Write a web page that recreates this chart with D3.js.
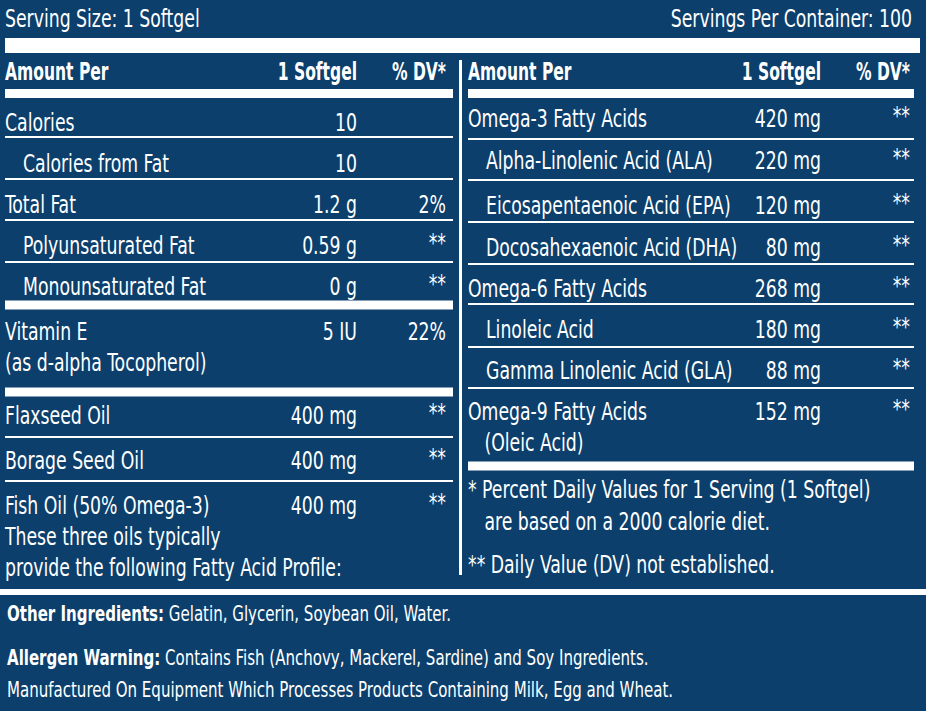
<!DOCTYPE html>
<html><head><meta charset="utf-8">
<script src="https://cdn.jsdelivr.net/npm/d3@7"></script>
<style>
html,body{margin:0;padding:0;background:#0c3f6c;}
text{font-family:"DejaVu Sans Condensed","DejaVu Sans",sans-serif;fill:#fff;}
</style></head><body>
<svg id="c" width="926" height="711"></svg>
<script>
// ---- data ----
const servingSize = "Serving Size: 1 Softgel";
const servingsPer = "Servings Per Container: 100";
const headers = ["Amount Per", "1 Softgel", "% DV*"];
const leftLabels = ["Calories", "Calories from Fat", "Total Fat", "Polyunsaturated Fat", "Monounsaturated Fat", "Vitamin E\n(as d-alpha Tocopherol)", "Flaxseed Oil", "Borage Seed Oil", "Fish Oil (50% Omega-3)\nThese three oils typically\nprovide the following Fatty Acid Profile:"];
const leftAmounts = ["10", "10", "1.2 g", "0.59 g", "0 g", "5 IU", "400 mg", "400 mg", "400 mg"];
const leftDV = ["", "", "2%", "**", "**", "22%", "**", "**", "**"];
const leftIndent = [0, 1, 0, 1, 1, 0, 0, 0, 0];
const rightLabels = ["Omega-3 Fatty Acids", "Alpha-Linolenic Acid (ALA)", "Eicosapentaenoic Acid (EPA)", "Docosahexaenoic Acid (DHA)", "Omega-6 Fatty Acids", "Linoleic Acid", "Gamma Linolenic Acid (GLA)", "Omega-9 Fatty Acids\n   (Oleic Acid)"];
const rightAmounts = ["420 mg", "220 mg", "120 mg", "80 mg", "268 mg", "180 mg", "88 mg", "152 mg"];
const rightDV = ["**", "**", "**", "**", "**", "**", "**", "**"];
const rightIndent = [0, 1, 1, 1, 0, 1, 1, 0];
const footnotes = ["* Percent Daily Values for 1 Serving (1 Softgel)", "   are based on a 2000 calorie diet.", "** Daily Value (DV) not established."];
const otherLabel = "Other Ingredients:", otherText = " Gelatin, Glycerin, Soybean Oil, Water.";
const allergenLabel = "Allergen Warning:", allergenText = " Contains Fish (Anchovy, Mackerel, Sardine) and Soy Ingredients.";
const allergenLine2 = "Manufactured On Equipment Which Processes Products Containing Milk, Egg and Wheat.";

// ---- layout ----
const svg = d3.select("#c");
const FS = 24, SX = 0.8;
const leftBase = [131, 172, 213, 254, 295, 340, 424, 469, 514];
const leftRule = [137, 179, 220, 262, 305, 392, 437, 481, null];
const leftRuleH = [2, 2, 2, 2, 9, 9, 2, 2, 0];
const rightBase = [127, 169, 214, 256, 297, 338, 379, 420];
const rightRule = [139, 180, 222, 264, 304, 347, 388, 466];
const rightRuleH = [2, 2, 2, 2, 2, 2, 2, 9];

const L = {x0: 5, x1: 453, amt: 357, dv: 446};
const R = {x0: 468, x1: 914, amt: 821, dv: 910};
const lx = d3.scaleLinear().domain([0, 1]).range([L.x0, L.x0 + 18]);
const rx = d3.scaleLinear().domain([0, 1]).range([R.x0, R.x0 + 18]);

function txt(x, y, s, anchor, bold, size, sx) {
  return svg.append("text").attr("transform", `translate(${x},${y}) scale(${sx || SX},1)`)
    .attr("text-anchor", anchor || "start")
    .attr("font-size", size || FS).attr("font-weight", bold ? "bold" : "normal").style("white-space", "pre").text(s);
}
function rect(x, y, w, h) { svg.append("rect").attr("x", x).attr("y", y).attr("width", w).attr("height", h).attr("fill", "#fff"); }

txt(5, 27, servingSize);
txt(912, 27, servingsPer, "end");
rect(5, 38, 915, 15);
svg.append("rect").attr("x", 459).attr("y", 60).attr("width", 3).attr("height", 515).attr("fill", "#fff");

[L, R].forEach(c => {
  txt(c.x0, 80, headers[0], "start", true, 24, 0.72);
  txt(c.amt, 80, headers[1], "end", true, 24, 0.72);
  txt(c.dv, 80, headers[2], "end", true, 24, 0.72);
  rect(c.x0, 89, c.x1 - c.x0, 9);
});

function column(c, xs, labels, amts, dvs, indents, bases, rules, ruleH) {
  labels.forEach((lab, i) => {
    lab.split("\n").forEach((ln, j) => txt(xs(indents[i]), bases[i] + j * 31, ln));
    txt(c.amt, bases[i], amts[i], "end");
    txt(c.dv, bases[i] - (dvs[i] === "**" ? 3 : 0), dvs[i], "end");
    if (rules[i] != null) rect(c.x0, rules[i] - ruleH[i] / 2, c.x1 - c.x0, ruleH[i]);
  });
}
column(L, lx, leftLabels, leftAmounts, leftDV, leftIndent, leftBase, leftRule, leftRuleH);
column(R, rx, rightLabels, rightAmounts, rightDV, rightIndent, rightBase, rightRule, rightRuleH);

footnotes.forEach((f, i) => txt(R.x0, [498, 530, 573][i], f));

rect(0, 589, 926, 6);
const t1 = txt(7, 621, otherLabel, "start", true, 22, 0.76);
t1.append("tspan").attr("font-weight", "normal").text(otherText);
const t2 = txt(7, 665, allergenLabel, "start", true, 22, 0.76);
t2.append("tspan").attr("font-weight", "normal").text(allergenText);
txt(7, 697, allergenLine2, "start", false, 22, 0.76);
</script></body></html>
